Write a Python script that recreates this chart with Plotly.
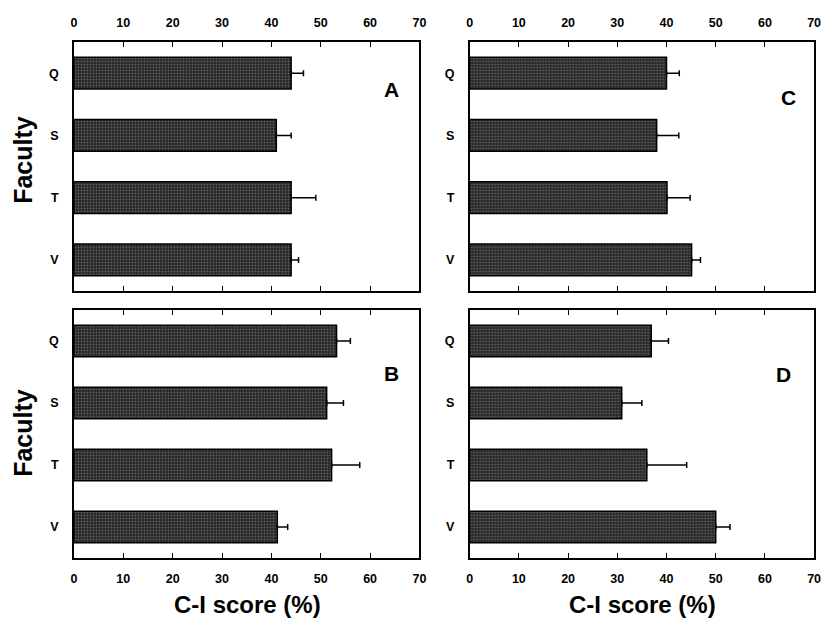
import plotly.graph_objects as go

faculties = ["Q", "S", "T", "V"]

a_vals = [44.0, 41.0, 44.0, 44.0]
a_err = [2.5, 3.0, 5.0, 1.5]
b_vals = [53.2, 51.2, 52.2, 41.2]
b_err = [2.8, 3.4, 5.7, 2.1]
c_vals = [40.0, 38.0, 40.1, 45.1]
c_err = [2.6, 4.5, 4.7, 1.8]
d_vals = [36.9, 30.9, 36.0, 50.0]
d_err = [3.5, 4.1, 8.1, 2.9]

x_ticks = [0, 10, 20, 30, 40, 50, 60, 70]
panel_labels = ["A", "B", "C", "D"]
x_title = "C-I score (%)"
y_title = "Faculty"

# page body has an 8px margin: figure is drawn at (8, 8)
OFF = 8
W, H = 831 - OFF, 618 - OFF
FONT = "Liberation Sans"


def fx(px):
    return (px - OFF) / W


def fy(py):
    return 1 - (py - OFF) / H


panels = [
    ("x", "y", a_vals, a_err),
    ("x2", "y2", b_vals, b_err),
    ("x3", "y3", c_vals, c_err),
    ("x4", "y4", d_vals, d_err),
]

fig = go.Figure()
for xa, ya, vals, err in panels:
    fig.add_trace(go.Bar(
        x=vals, y=faculties, orientation="h", xaxis=xa, yaxis=ya,
        width=0.51,
        marker=dict(color="#333333", line=dict(color="black", width=1.5),
                    pattern=dict(shape=".", fgcolor="#9a9a9a", bgcolor="#262626",
                                 size=3, solidity=0.3)),
        error_x=dict(type="data", array=err, arrayminus=[0] * len(err), symmetric=False,
                     color="black", thickness=1.5, width=3),
        showlegend=False,
    ))

xl = [fx(71.7), fx(421.5)]
xr = [fx(472.3), fx(821.0)]
yt = [fy(291), fy(42)]
yb = [fy(558), fy(310)]


def xax(domain, anchor, side):
    return dict(domain=domain, anchor=anchor, side=side, range=[0, 70],
                tickvals=x_ticks, ticks="inside", ticklen=5, tickwidth=1.2,
                tickcolor="black", showline=True, linecolor="black", linewidth=1.5,
                mirror="ticks", showgrid=False, zeroline=False,
                tickfont=dict(family=FONT, size=12.5, color="black", weight="bold"),
                ticklabelstandoff=8)


def yax(domain, anchor):
    return dict(domain=domain, anchor=anchor, type="category",
                categoryorder="array", categoryarray=faculties,
                range=[3.5, -0.5], ticks="", showline=True, linecolor="black",
                linewidth=1.5, mirror=True, showgrid=False, zeroline=False,
                tickfont=dict(family=FONT, size=12.5, color="black", weight="bold"),
                ticklabelstandoff=11)


fig.update_layout(
    width=W, height=H,
    margin=dict(l=0, r=0, t=0, b=0),
    paper_bgcolor="white", plot_bgcolor="white",
    bargap=0.49,
    xaxis=xax(xl, "y", "top"), yaxis=yax(yt, "x"),
    xaxis2=xax(xl, "y2", "bottom"), yaxis2=yax(yb, "x2"),
    xaxis3=xax(xr, "y3", "top"), yaxis3=yax(yt, "x3"),
    xaxis4=xax(xr, "y4", "bottom"), yaxis4=yax(yb, "x4"),
)

lab_font = dict(family=FONT, size=21, color="black", weight="bold")
label_pos = [(393, 89), (393, 373), (795, 98), (790, 374)]
for lab, (px, py) in zip(panel_labels, label_pos):
    fig.add_annotation(x=fx(px), y=fy(py), xref="paper", yref="paper",
                       xanchor="center", yanchor="middle",
                       text=lab, showarrow=False, font=lab_font)

for py in (160, 433):
    fig.add_annotation(x=fx(20), y=fy(py), xref="paper", yref="paper",
                       xanchor="center", yanchor="middle",
                       text=y_title, textangle=-90, showarrow=False,
                       font=dict(family=FONT, size=25, color="black", weight="bold"))

for px in (247, 647):
    fig.add_annotation(x=fx(px), y=fy(604), xref="paper", yref="paper",
                       xanchor="center", yanchor="middle",
                       text=x_title, showarrow=False,
                       font=dict(family=FONT, size=24, color="black", weight="bold"))

fig.write_html("out.html")
